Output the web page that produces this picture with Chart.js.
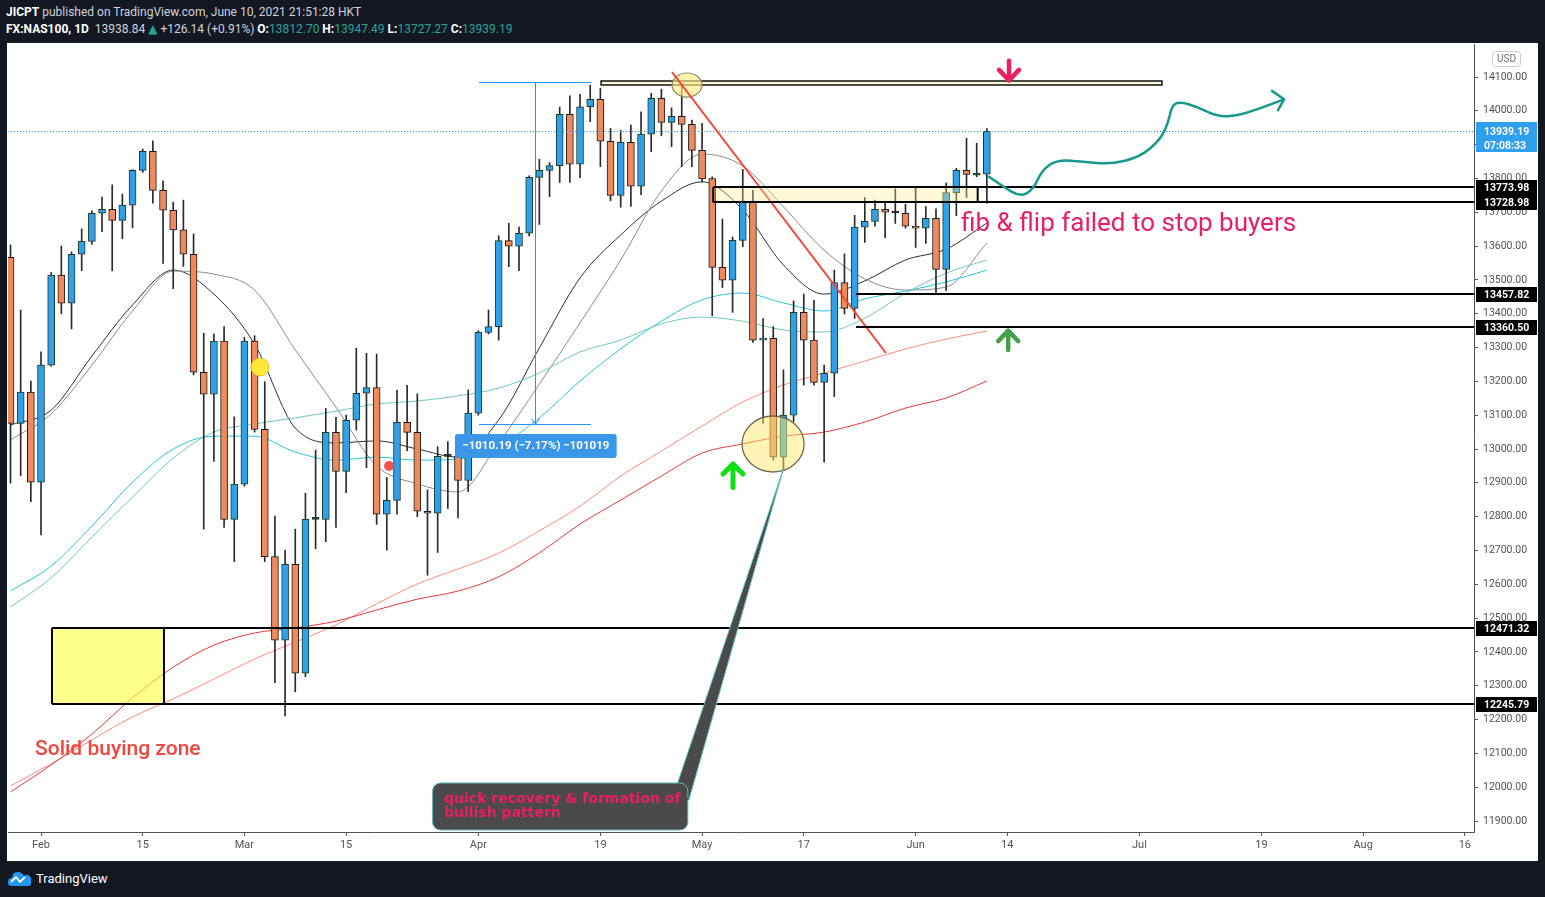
<!DOCTYPE html>
<html>
<head>
<meta charset="utf-8">
<script src="https://cdn.jsdelivr.net/npm/chart.js@4.4.1/dist/chart.umd.min.js"></script>
<style>
  html, body { margin: 0; padding: 0; background: #131722; width: 1545px; height: 897px; overflow: hidden; font-family: Roboto, "DejaVu Sans", sans-serif; }
  #head { position: absolute; left: 6px; top: 4px; color: #d1d4dc; font-size: 12px; line-height: 17px; white-space: nowrap; }
  #head b { color: #fff; }
  #head .g { color: #26a69a; }
  #panel { position: absolute; left: 7px; top: 43px; width: 1531px; height: 818px; background: #fff; }
  #foot { position: absolute; left: 8px; top: 869px; color: #fff; font-size: 13px; display: flex; align-items: center; }
  #foot svg { margin-right: 4px; }
</style>
</head>
<body>
<div id="head">
  <div><b>JICPT</b> published on TradingView.com, June 10, 2021 21:51:28 HKT</div>
  <div><b>FX:NAS100, 1D</b>&nbsp; 13938.84 <span class="g">&#9650;</span> +126.14 (+0.91%) <b>O:</b><span class="g">13812.70</span> <b>H:</b><span class="g">13947.49</span> <b>L:</b><span class="g">13727.27</span> <b>C:</b><span class="g">13939.19</span></div>
</div>
<div id="panel"><canvas id="c" width="1531" height="818"></canvas></div>
<div id="foot">
  <svg width="24" height="18" viewBox="0 0 24 18"><path d="M3 17 Q0 17 0 13 Q0 9 4 9 Q4 3 10 3 Q14 3 16 7 Q18 5 20 6 Q24 8 23 12 Q24 17 20 17 Z" fill="#2196f3"/><path d="M3 13 L8 8 L12 13 L17 8" stroke="#fff" stroke-width="1.8" fill="none"/></svg>
  <span>TradingView</span>
</div>
<script>
// daily candles FX:NAS100, 27 Jan - 10 Jun 2021 (index 0 = 27 Jan)
const opens = [13567,13076,13168,12902,13248,13514,13431,13576,13614,13697,
  13709,13676,13721,13824,13880,13765,13706,13648,13576,13227,
  13162,13319,12792,12896,13319,13058,12682,12435,12659,12337,
  12792,12792,13049,12934,13085,13165,13182,12807,12848,13079,
  13049,12816,12810,12978,12979,12907,13106,13345,13362,13616,
  13600,13638,13803,13824,13838,13990,13842,14012,14034,13910,
  13750,13907,13777,13931,14037,13966,13984,13960,13883,13800,
  13537,13499,13617,13733,13322,13327,12976,13100,13404,13322,
  13197,13224,13492,13416,13656,13673,13709,13700,13697,13659,
  13653,13682,13531,13758,13824,13810,13812.70];
const highs = [13603,13411,13201,13287,13522,13600,13583,13651,13704,13745,
  13781,13754,13826,13887,13911,13793,13730,13736,13636,13342,
  13340,13362,13095,13330,13335,13199,12802,12701,12763,12869,
  12997,13120,13094,13100,13298,13283,13281,12916,13174,13188,
  13163,12879,13007,13022,13005,13174,13350,13411,13631,13667,
  13656,13808,13857,13847,14011,14044,14049,14076,14067,13948,
  13942,13958,13997,14052,14064,14009,14081,13973,13963,13805,
  13680,13627,13827,13766,13386,13362,13234,13438,13458,13440,
  13248,13529,13577,13691,13744,13736,13731,13769,13724,13773,
  13717,13710,13786,13830,13919,13904,13947.49];
const lows = [12899,12921,12844,12746,13245,13400,13355,13527,13605,13643,
  13527,13622,13654,13818,13727,13549,13474,13540,13219,12763,
  12963,12768,12667,12890,13050,12667,12309,12211,12282,12327,
  12705,12726,12768,12871,13056,12945,12777,12701,12807,12995,
  12800,12627,12694,12824,12796,12874,13100,13340,13322,13539,
  13527,13630,13664,13746,13788,13788,13802,13968,13835,13734,
  13715,13717,13752,13879,13926,13894,13835,13835,13790,13394,
  13477,13404,13598,13315,13076,12967,12938,13081,13189,13189,
  12961,13155,13399,13386,13611,13659,13625,13667,13653,13596,
  13608,13462,13468,13690,13744,13805,13727.27];
const closes = [13076,13168,12902,13248,13514,13431,13576,13614,13697,13709,
  13676,13721,13824,13880,13765,13706,13648,13576,13227,13162,
  13319,12792,12896,13319,13058,12682,12435,12659,12337,12792,
  12794,13049,12934,13085,13165,13182,12807,12848,13079,13049,
  12816,12810,12978,12981,12907,13106,13345,13362,13616,13600,
  13638,13803,13824,13838,13990,13842,14012,14034,13910,13750,
  13907,13777,13931,14037,13966,13984,13960,13883,13799,13537,
  13499,13617,13733,13322,13328,12976,13100,13404,13322,13197,
  13224,13492,13416,13656,13673,13709,13700,13698,13659,13653,
  13682,13531,13758,13824,13812,13812,13939.19];

// moving averages read every 4 bars
const maIdx = [0,4,8,12,16,20,24,28,32,36,40,44,48,52,56,60,64,68,72,76,80,84,88,92,96];
const maDark = [13071,13115,13275,13426,13529,13458,13310,13062,13018,13024,13000,12976,13086,13299,13506,13633,13733,13790,13707,13544,13458,13497,13559,13591,13668];
const maGray = [13027,13104,13248,13408,13526,13517,13470,13293,13124,12950,12897,12873,13018,13192,13373,13559,13763,13872,13837,13716,13588,13503,13470,13479,13609];
const maCyan = [12580,12654,12772,12902,13000,13038,13038,12991,12967,12976,12967,12970,13009,13092,13201,13296,13378,13441,13461,13432,13408,13444,13467,13494,13529];
const maTeal = [12533,12619,12740,12858,12973,13050,13074,13092,13112,13133,13142,13157,13180,13225,13287,13322,13370,13390,13378,13352,13346,13387,13461,13520,13559];
const maSalmon = [12004,12069,12140,12208,12261,12320,12379,12429,12480,12542,12601,12645,12692,12758,12831,12920,12994,13068,13139,13189,13225,13260,13296,13325,13349];
const maRed = [11986,12066,12157,12264,12355,12420,12456,12471,12491,12524,12556,12580,12622,12693,12778,12849,12920,12988,13015,13038,13050,13080,13121,13151,13201];

const xTickIdx = [3, 13, 23, 33, 46, 58, 68, 78, 89, 98, 111, 123, 133, 143];
const xTickText = ['Feb','15','Mar','15','Apr','19','May','17','Jun','14','Jul','19','Aug','16'];
const yTickVals = [11900,12000,12100,12200,12300,12400,12500,12600,12700,12800,12900,13000,
  13100,13200,13300,13400,13500,13600,13700,13800,13900,14000,14100];

// drawn levels and where they start (bar index)
const levelPrices = [13773.98, 13728.98, 13457.82, 13360.50, 12471.32, 12245.79];
const levelStart = [69.1, 69.1, 83.14, 83.14, 4.08, 4.08];
const lastPrice = 13939.19;

// hand-drawn arrow path (bar index, price)
const swingPath = [[96.21,13805],[97.59,13776],[99.26,13746],[100.54,13766],[101.42,13825],[102.9,13855],
  [105.46,13850],[108.11,13842],[111.06,13863],[113.03,13914],[113.82,13963],[114.21,14017],
  [115.0,14027],[116.67,14012],[118.64,13983],[120.6,13985],[122.86,14007],[125.22,14034]];
const swingHead = [[124.04,14059],[125.22,14034],[124.63,14002]];

const fam = 'Roboto, "DejaVu Sans", sans-serif';
Chart.defaults.font.family = fam;

const bars = opens.map((_, i) => i);
const bull = i => closes[i] >= opens[i];
const doji = i => Math.abs(closes[i] - opens[i]) <= 3;
const bodyFill = bars.map(i => doji(i) ? '#1f2f22' : (bull(i) ? '#30a0ea' : '#ef8a5c'));
const bodyLine = bars.map(i => bull(i) ? '#1d3b22' : '#1a1a1a');

const maLine = (vals, color) => ({
  type: 'line',
  data: maIdx.map((v, k) => ({ x: v, y: vals[k] })),
  borderColor: color, borderWidth: 1, pointRadius: 0,
  cubicInterpolationMode: 'monotone', order: 3
});

const overlay = {
  id: 'overlay',
  afterDatasetsDraw(chart) {
    const { ctx, chartArea: a } = chart;
    const X = v => chart.scales.x.getPixelForValue(v);
    const Y = v => chart.scales.y.getPixelForValue(v);
    ctx.save();
    ctx.beginPath();
    ctx.rect(a.left, a.top, a.right - a.left, a.bottom - a.top);
    ctx.clip();

    // last price dotted line
    ctx.strokeStyle = '#2196f3'; ctx.lineWidth = 1; ctx.setLineDash([1, 2]);
    const ly = Math.round(Y(lastPrice)) + 0.5;
    ctx.beginPath(); ctx.moveTo(a.left, ly); ctx.lineTo(a.right, ly); ctx.stroke();
    ctx.setLineDash([]);

    // measure tool
    ctx.strokeStyle = '#2196f3'; ctx.lineWidth = 1;
    const mt = Math.round(Y(14085.2)) + 0.5, mb = Math.round(Y(13075)) + 0.5, mx = Math.round(X(51.6)) + 0.5;
    ctx.beginPath();
    ctx.moveTo(X(46.07), mt); ctx.lineTo(X(57.08), mt);
    ctx.moveTo(X(46.07), mb); ctx.lineTo(X(57.08), mb);
    ctx.moveTo(mx, mt); ctx.lineTo(mx, mb);
    ctx.moveTo(mx - 4, mb - 6); ctx.lineTo(mx, mb); ctx.lineTo(mx + 4, mb - 6);
    ctx.stroke();
    ctx.fillStyle = '#3a96e6';
    ctx.beginPath(); ctx.roundRect(X(43.7), Y(13044.3), X(59.6) - X(43.7), Y(12973.4) - Y(13044.3), 3); ctx.fill();
    ctx.fillStyle = '#fff'; ctx.font = 'bold 11.5px ' + fam; ctx.textAlign = 'center'; ctx.textBaseline = 'middle';
    ctx.fillText('\u22121010.19 (\u22127.17%) \u2212101019', (X(43.7) + X(59.6)) / 2, (Y(13044.3) + Y(12973.4)) / 2 + 0.5);

    // top resistance strip
    ctx.fillStyle = '#fff8d8'; ctx.strokeStyle = '#111'; ctx.lineWidth = 1.5;
    ctx.beginPath(); ctx.rect(X(58.07), Y(14088), X(113.22) - X(58.07), Y(14076) - Y(14088)); ctx.fill(); ctx.stroke();

    // ellipse at the top
    ctx.fillStyle = 'rgba(255,236,130,0.65)'; ctx.strokeStyle = '#8f8a66'; ctx.lineWidth = 1.2;
    ctx.beginPath(); ctx.ellipse(X(66.52), Y(14076.3), X(67.99) - X(66.52), Y(14040.8) - Y(14076.3), 0, 0, Math.PI * 2); ctx.fill(); ctx.stroke();

    // trend line
    ctx.strokeStyle = '#f44336'; ctx.lineWidth = 2;
    ctx.beginPath(); ctx.moveTo(X(65.04), Y(14114.8)); ctx.lineTo(X(86.08), Y(13283.9)); ctx.stroke();

    // fib & flip box
    ctx.fillStyle = 'rgba(255,238,140,0.35)';
    ctx.fillRect(X(69.1), Y(13773.98), X(95.1) - X(69.1), Y(13728.98) - Y(13773.98));
    ctx.strokeStyle = '#000'; ctx.lineWidth = 2;
    ctx.beginPath(); ctx.moveTo(X(69.1), Y(13773.98)); ctx.lineTo(X(69.1), Y(13728.98));
    ctx.moveTo(X(95.1), Y(13773.98)); ctx.lineTo(X(95.1), Y(13728.98)); ctx.stroke();

    // buying zone box
    ctx.fillStyle = 'rgba(255,255,70,0.62)';
    ctx.fillRect(X(4.08), Y(12471.32), X(15.09) - X(4.08), Y(12245.79) - Y(12471.32));
    ctx.beginPath(); ctx.moveTo(X(4.08), Y(12471.32)); ctx.lineTo(X(4.08), Y(12245.79));
    ctx.moveTo(X(15.09), Y(12471.32)); ctx.lineTo(X(15.09), Y(12245.79)); ctx.stroke();

    // horizontal levels
    levelPrices.forEach((p, k) => {
      const yy = Math.round(Y(p));
      ctx.beginPath(); ctx.moveTo(X(levelStart[k]), yy); ctx.lineTo(a.right, yy); ctx.stroke();
    });

    // ellipse at the May low
    ctx.fillStyle = 'rgba(255,234,110,0.5)'; ctx.strokeStyle = '#6e6a4a'; ctx.lineWidth = 1.3;
    ctx.beginPath(); ctx.ellipse(X(74.98), Y(13014.8), X(78.03) - X(74.98), Y(12932) - Y(13014.8), 0, 0, Math.PI * 2); ctx.fill(); ctx.stroke();

    // dots
    ctx.fillStyle = '#ffe83a'; ctx.strokeStyle = '#d9c21c'; ctx.lineWidth = 1;
    ctx.beginPath(); ctx.arc(X(24.53), Y(13242.5), 9, 0, Math.PI * 2); ctx.fill(); ctx.stroke();
    ctx.fillStyle = '#ef5350';
    ctx.beginPath(); ctx.arc(X(37.22), Y(12949.7), 5, 0, Math.PI * 2); ctx.fill();

    // callout
    ctx.fillStyle = '#4a4a4a'; ctx.strokeStyle = '#5db8b8'; ctx.lineWidth = 1;
    ctx.beginPath();
    ctx.moveTo(X(65.6), Y(12012.4)); ctx.lineTo(X(75.96), Y(12937.9)); ctx.lineTo(X(66.7), Y(11962));
    ctx.closePath(); ctx.fill(); ctx.stroke();
    ctx.beginPath(); ctx.roundRect(X(41.5), Y(12012.4), X(66.6) - X(41.5), Y(11873.4) - Y(12012.4), 8); ctx.fill(); ctx.stroke();
    ctx.beginPath();
    ctx.moveTo(X(65.6), Y(12012.4) + 1); ctx.lineTo(X(66.7), Y(11962)); ctx.lineTo(X(66.0), Y(11962)); ctx.lineTo(X(64.6), Y(12012.4) + 1);
    ctx.closePath(); ctx.fill();
    ctx.fillStyle = '#e91e63'; ctx.font = 'bold 14px "DejaVu Sans", sans-serif';
    ctx.textAlign = 'left'; ctx.textBaseline = 'alphabetic';
    ctx.fillText('quick recovery & formation of', X(42.63), Y(11953.3));
    ctx.fillText('bullish pattern', X(42.63), Y(11911.9));

    // arrows
    const arrow = (i, tip, tail, wing, color, w) => {
      ctx.strokeStyle = color; ctx.lineWidth = w; ctx.lineCap = 'round'; ctx.lineJoin = 'round';
      const xx = X(i);
      ctx.beginPath(); ctx.moveTo(xx, Y(tail)); ctx.lineTo(xx, Y(tip));
      ctx.moveTo(xx - 10, Y(wing)); ctx.lineTo(xx, Y(tip)); ctx.lineTo(xx + 10, Y(wing));
      ctx.stroke();
    };
    arrow(98.18, 14090, 14148, 14121, '#e91e63', 4.5);
    arrow(71.04, 12956, 12886, 12926, '#12e012', 5);
    arrow(98.1, 13350, 13293, 13319, '#43a047', 4.5);

    // swing projection
    ctx.strokeStyle = '#15998b'; ctx.lineWidth = 2.5; ctx.lineCap = 'round';
    const pts = swingPath.map(p => [X(p[0]), Y(p[1])]);
    ctx.beginPath(); ctx.moveTo(pts[0][0], pts[0][1]);
    for (let k = 1; k < pts.length - 1; k++) {
      const mx2 = (pts[k][0] + pts[k + 1][0]) / 2, my2 = (pts[k][1] + pts[k + 1][1]) / 2;
      ctx.quadraticCurveTo(pts[k][0], pts[k][1], mx2, my2);
    }
    ctx.lineTo(pts[pts.length - 1][0], pts[pts.length - 1][1]);
    ctx.stroke();
    ctx.beginPath();
    swingHead.forEach((p, k) => k ? ctx.lineTo(X(p[0]), Y(p[1])) : ctx.moveTo(X(p[0]), Y(p[1])));
    ctx.stroke();
    ctx.lineCap = 'butt';

    // texts
    ctx.fillStyle = '#e91e63'; ctx.font = '26px ' + fam;
    ctx.fillText('fib & flip failed to stop buyers', X(93.46), Y(13645));
    ctx.fillStyle = '#f2453d'; ctx.font = '500 21px ' + fam;
    ctx.fillText('Solid buying zone', X(2.41), Y(12095));

    ctx.restore();
  },
  afterDraw(chart) {
    const { ctx, chartArea: a } = chart;
    const Y = v => chart.scales.y.getPixelForValue(v);
    const x0 = a.right + 2, w = chart.width - 1 - x0;
    ctx.save();
    ctx.textAlign = 'left'; ctx.textBaseline = 'middle';
    ctx.font = 'bold 10.5px ' + fam;
    levelPrices.forEach(p => {
      const yc = Math.round(Y(p));
      ctx.fillStyle = '#000'; ctx.fillRect(x0, yc - 7, w, 15);
      ctx.fillStyle = '#fff'; ctx.fillText(p.toFixed(2), x0 + 8, yc + 1);
    });
    const yl = Math.round(Y(lastPrice));
    ctx.fillStyle = '#2f9ff0'; ctx.fillRect(x0, yl - 9, w, 30);
    ctx.fillStyle = '#fff';
    ctx.fillText(lastPrice.toFixed(2), x0 + 8, yl + 1);
    ctx.fillText('07:08:33', x0 + 8, yl + 15);
    // currency badge
    ctx.strokeStyle = '#c9ccd3'; ctx.lineWidth = 1;
    ctx.beginPath(); ctx.roundRect(a.right + 18.5, a.top + 7.5, 28, 15, 3); ctx.stroke();
    ctx.fillStyle = '#6a6d78'; ctx.font = '10px ' + fam; ctx.textAlign = 'center';
    ctx.fillText('USD', a.right + 32.5, a.top + 15.5);
    ctx.restore();
  }
};

new Chart(document.getElementById('c'), {
  type: 'bar',
  data: {
    datasets: [
      {
        data: bars.map(i => ({ x: i, y: [opens[i], closes[i]] })),
        backgroundColor: bodyFill, borderColor: bodyLine, borderWidth: 1,
        barThickness: 7, minBarLength: 2, grouped: false, borderSkipped: false, order: 0
      },
      {
        data: bars.map(i => ({ x: i, y: [lows[i], highs[i]] })),
        backgroundColor: '#2a2a2a', borderWidth: 0,
        barThickness: 1, grouped: false, order: 1
      },
      maLine(maRed, '#e53935'),
      maLine(maSalmon, '#ff8a80'),
      maLine(maTeal, '#72c7ba'),
      maLine(maCyan, '#26c6da'),
      maLine(maGray, '#8a8a8a'),
      maLine(maDark, '#2a2e39')
    ]
  },
  options: {
    responsive: false,
    animation: false,
    layout: { padding: { left: 1, top: 1, right: 0, bottom: 0 } },
    plugins: { legend: { display: false }, tooltip: { enabled: false } },
    scales: {
      x: {
        type: 'linear', min: -0.246, max: 143.9, offset: false,
        grid: { display: true, drawOnChartArea: false, drawTicks: true, tickLength: 4, color: '#50535e', offset: false },
        border: { display: true, color: '#50535e' },
        ticks: {
          color: '#50535e', font: { size: 11 }, padding: 3, maxRotation: 0, autoSkip: false,
          callback: v => { const k = xTickIdx.indexOf(v); return k < 0 ? '' : xTickText[k]; }
        },
        afterBuildTicks: s => { s.ticks = xTickIdx.map(v => ({ value: v })); },
        afterFit: s => { s.height = 29; s.paddingLeft = 0; s.paddingRight = 0; }
      },
      y: {
        position: 'right', min: 11867.5, max: 14197.6,
        grid: { display: true, drawOnChartArea: false, drawTicks: true, tickLength: 4, color: '#50535e' },
        border: { display: true, color: '#50535e' },
        ticks: { color: '#50535e', font: { size: 10.5 }, padding: 5, includeBounds: false, callback: v => v.toFixed(2) },
        afterBuildTicks: s => { s.ticks = yTickVals.map(v => ({ value: v })); },
        afterFit: s => { s.width = 64; s.paddingTop = 0; s.paddingBottom = 0; }
      }
    }
  },
  plugins: [overlay]
});
</script>
</body>
</html>
